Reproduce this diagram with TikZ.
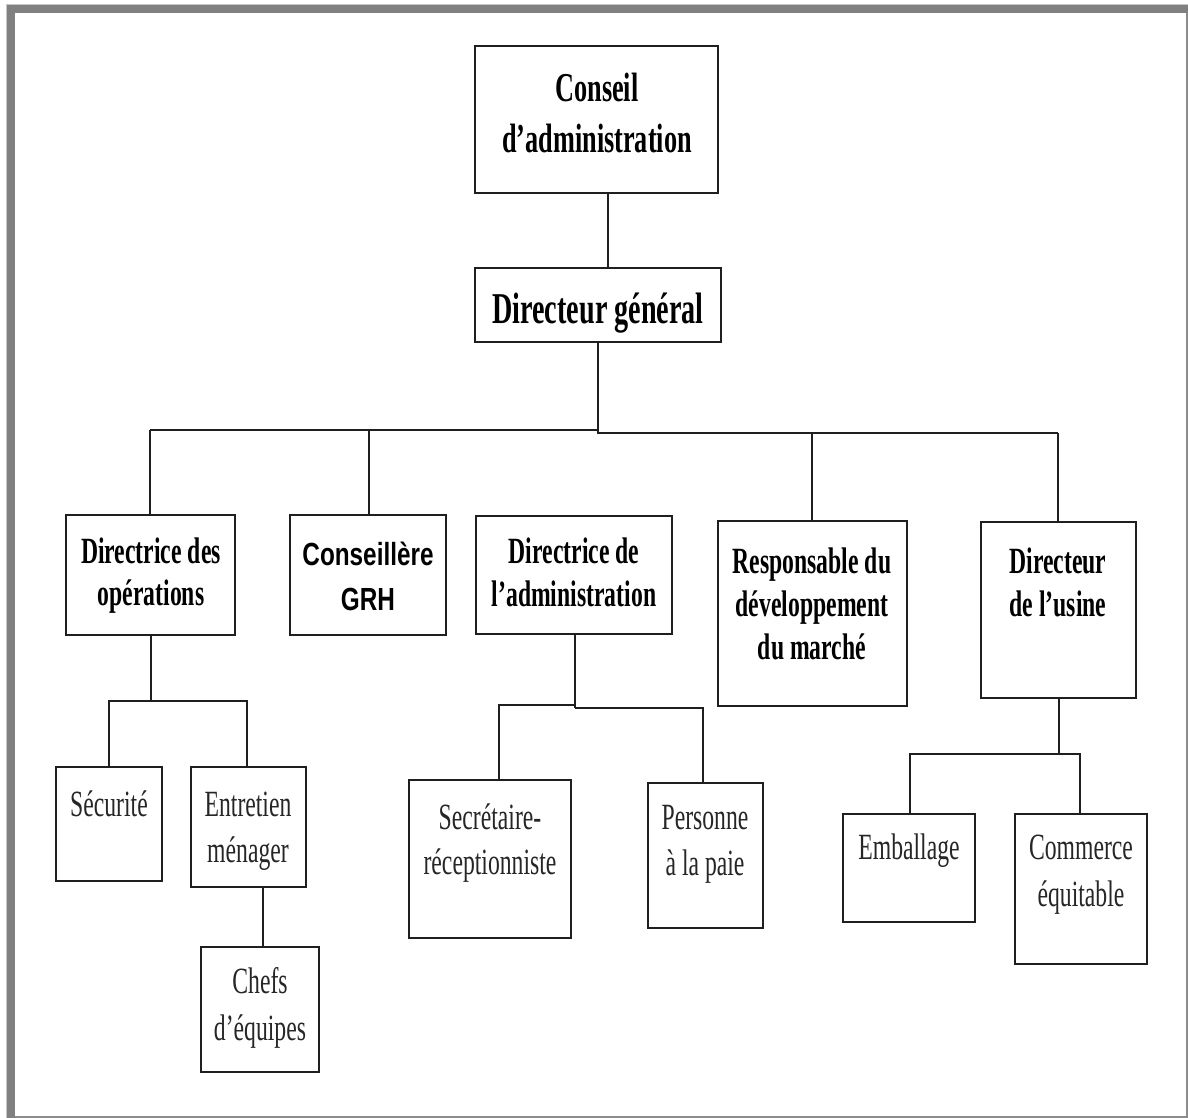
\documentclass[tikz,border=0pt]{standalone}
\usepackage{fontspec}
\setmainfont{Liberation Serif}[FakeStretch=0.64]
\newfontfamily\grhfont{Liberation Sans}[FakeStretch=0.76]
\newcommand\obox[5]{\node[obx, minimum width={(#4-#2)*0.5pt}, minimum height={(#5-#3)*0.5pt}] (#1) at ({(#2+#4)/2},{(#3+#5)/2}) {};}
\newcommand\tline[5]{\node[#4] (#1) at (#2,#3) {#5};}
\begin{document}
\begin{tikzpicture}[x=0.5pt,y=-0.5pt,
  obx/.style={draw=black!88, line width=1pt, inner sep=0pt, rectangle},
  conn/.style={draw=black!88, line width=1pt},
  tA/.style={anchor=base, inner sep=0pt, font=\fontsize{20.5}{24}\selectfont\bfseries},
  tB/.style={anchor=base, inner sep=0pt, font=\fontsize{22}{26}\selectfont\bfseries},
  tC/.style={anchor=base, inner sep=0pt, font=\fontsize{18.5}{22}\selectfont\bfseries},
  tS/.style={anchor=base, inner sep=0pt, font=\grhfont\fontsize{16}{20}\selectfont\bfseries},
  tD/.style={anchor=base, inner sep=0pt, text=black!85, font=\fontsize{18.5}{22}\selectfont}
]
\useasboundingbox (0,0) rectangle (1188,1118);
% frame
\fill[white] (0,0) rectangle (1188,1118);
\fill[black!50] (7,5) rectangle (1188,13);
\fill[black!50] (7,5) rectangle (15,1118);
\draw[black!22, line width=0.5pt] (6.5,1118) -- (6.5,4.5) -- (1188,4.5);
\draw[black!45, line width=1pt] (1186.5,13) -- (1186.5,1116.5) -- (15,1116.5);

% boxes
\obox{ca}{475}{46}{718}{193}
\obox{dg}{475}{268}{721}{342}
\obox{ops}{66}{515}{235}{635}
\obox{grh}{290}{515}{446}{635}
\obox{adm}{476}{516}{672}{634}
\obox{resp}{718}{521}{907}{706}
\obox{usi}{981}{522}{1136}{698}
\obox{secu}{56}{767}{162}{881}
\obox{entr}{191}{767}{306}{887}
\obox{chef}{201}{947}{319}{1072}
\obox{secr}{409}{780}{571}{938}
\obox{paie}{648}{783}{763}{928}
\obox{emb}{843}{814}{975}{922}
\obox{comm}{1015}{814}{1147}{964}

% texts
\tline{t1}{597}{102}{tA}{Conseil}
\tline{t2}{597}{153}{tA}{d’administration}
\tline{t3}{598}{323}{tB}{Directeur général}
\tline{t4}{151}{563}{tC}{Directrice des}
\tline{t5}{151}{605}{tC}{opérations}
\tline{t6}{368}{565}{tS}{Conseillère}
\tline{t7}{368}{610}{tS}{GRH}
\tline{t8}{574}{563}{tC}{Directrice de}
\tline{t9}{574}{606}{tC}{l’administration}
\tline{t10}{812}{573}{tC}{Responsable du}
\tline{t11}{812}{616}{tC}{développement}
\tline{t12}{812}{659}{tC}{du marché}
\tline{t13}{1058}{573}{tC}{Directeur}
\tline{t14}{1058}{616}{tC}{de l’usine}
\tline{t15}{109}{816}{tD}{Sécurité}
\tline{t16}{248}{816}{tD}{Entretien}
\tline{t17}{248}{862}{tD}{ménager}
\tline{t18}{260}{993}{tD}{Chefs}
\tline{t19}{260}{1040}{tD}{d’équipes}
\tline{t20}{490}{829}{tD}{Secrétaire-}
\tline{t21}{490}{874}{tD}{réceptionniste}
\tline{t22}{705}{829}{tD}{Personne}
\tline{t23}{705}{875}{tD}{à la paie}
\tline{t24}{909}{859}{tD}{Emballage}
\tline{t25}{1081}{859}{tD}{Commerce}
\tline{t26}{1081}{906}{tD}{équitable}

% bus coordinates
\coordinate (bl) at (150,430);
\coordinate (bm1) at (598,430);
\coordinate (bm2) at (598,433);
\coordinate (br) at (1058,433);
\coordinate (bg) at (369,430);
\coordinate (bresp) at (812,433);
\coordinate (os1) at (151,701);
\coordinate (osl) at (109,701);
\coordinate (osr) at (247,701);
\coordinate (as1) at (575,705);
\coordinate (as2) at (575,708);
\coordinate (asl) at (499,705);
\coordinate (asr) at (703,708);
\coordinate (us1) at (1059,754);
\coordinate (usl) at (910,754);
\coordinate (usr) at (1080,754);

% connectors
\draw[conn] (ca.south -| 608,0) -- (dg.north -| 608,0);
\draw[conn] (dg.south -| bm1) -- (bm1);
\draw[conn] (bl) -- (bm1) -- (bm2) -- (br);
\draw[conn] (bl) -- (ops.north -| bl);
\draw[conn] (bg) -- (grh.north -| bg);
\draw[conn] (bresp) -- (resp.north -| bresp);
\draw[conn] (br) -- (usi.north -| br);

\draw[conn] (ops.south -| os1) -- (os1);
\draw[conn] (secu.north -| osl) -- (osl) -- (osr) -- (entr.north -| osr);
\draw[conn] (entr.south -| 263,0) -- (chef.north -| 263,0);

\draw[conn] (adm.south -| as1) -- (as2);
\draw[conn] (secr.north -| asl) -- (asl) -- (as1);
\draw[conn] (as2) -- (asr) -- (paie.north -| asr);

\draw[conn] (usi.south -| us1) -- (us1);
\draw[conn] (emb.north -| usl) -- (usl) -- (usr) -- (comm.north -| usr);
\end{tikzpicture}
\end{document}
